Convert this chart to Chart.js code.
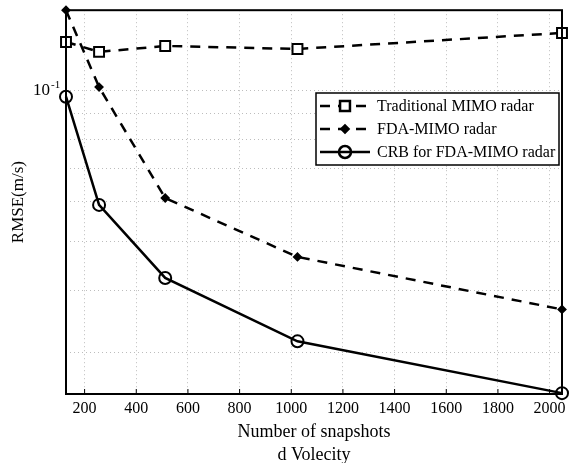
<!DOCTYPE html>
<html>
<head>
<meta charset="utf-8">
<script src="https://cdn.jsdelivr.net/npm/chart.js"></script>
<style>
    body { margin: 0; background: #fff; }
    #wrap { width: 576px; height: 463px; }
</style>
</head>
<body>
<div id="wrap"><canvas id="myChart" width="576" height="463"></canvas></div>
<script>
const snapshots = [128, 256, 512, 1024, 2048]
const traditionalMimo = [0.1253, 0.1197, 0.1230, 0.1213, 0.1306]
const fdaMimo = [0.1450, 0.1018, 0.0611, 0.0466, 0.0366]
const crbFdaMimo = [0.0974, 0.0592, 0.0423, 0.0316, 0.0249]
const xTicks = [200, 400, 600, 800, 1000, 1200, 1400, 1600, 1800, 2000]
const yGrid = [0.03, 0.04, 0.05, 0.06, 0.07, 0.08, 0.09, 0.1]
const seriesNames = ['Traditional MIMO radar', 'FDA-MIMO radar', 'CRB for FDA-MIMO radar']

const serif = "'Liberation Serif', 'DejaVu Serif', serif"

function toPoints(values) {
    return snapshots.map((x, i) => ({x: x, y: values[i]}))
}

// frame, inner ticks, 10^-1 label and the boxed legend
const extras = {
    id: 'extras',
    afterDraw(chart) {
        const ctx = chart.ctx
        const area = chart.chartArea
        const xs = chart.scales.x
        const ys = chart.scales.y
        ctx.save()
        ctx.setLineDash([])
        ctx.strokeStyle = '#000'
        ctx.lineWidth = 2
        ctx.strokeRect(area.left, area.top, area.right - area.left, area.bottom - area.top)

        ctx.lineWidth = 1
        xTicks.forEach(v => {
            const px = xs.getPixelForValue(v)
            ctx.beginPath()
            ctx.moveTo(px, area.bottom)
            ctx.lineTo(px, area.bottom - 5)
            ctx.stroke()
        })

        const py = ys.getPixelForValue(0.1)
        ctx.fillStyle = '#000'
        ctx.textBaseline = 'middle'
        ctx.textAlign = 'right'
        ctx.font = '17px ' + serif
        ctx.fillText('10', area.left - 16, py)
        ctx.font = '11px ' + serif
        ctx.textAlign = 'left'
        ctx.fillText('-1', area.left - 15, py - 6)

        // legend
        const bx = 316, by = 93, bw = 243, bh = 72
        ctx.fillStyle = '#fff'
        ctx.fillRect(bx, by, bw, bh)
        ctx.lineWidth = 1.5
        ctx.strokeStyle = '#000'
        ctx.strokeRect(bx, by, bw, bh)
        chart.data.datasets.forEach((ds, i) => {
            const ly = by + 13 + i * 23
            ctx.setLineDash(ds.borderDash || [])
            ctx.lineWidth = ds.borderWidth
            ctx.beginPath()
            ctx.moveTo(bx + 4, ly)
            ctx.lineTo(ds.borderDash ? bx + 58 : bx + 54, ly)
            ctx.stroke()
            ctx.setLineDash([])
            ctx.fillStyle = ds.pointBackgroundColor
            Chart.helpers.drawPoint(ctx, {
                pointStyle: ds.pointStyle,
                radius: ds.pointRadius,
                borderWidth: ds.pointBorderWidth
            }, bx + 29, ly)
            ctx.fillStyle = '#000'
            ctx.font = '16px ' + serif
            ctx.textAlign = 'left'
            ctx.textBaseline = 'middle'
            ctx.fillText(seriesNames[i], bx + 61, ly + 1)
        })
        ctx.restore()
    }
}

const common = {
    borderColor: '#000',
    borderWidth: 2.5,
    pointBorderColor: '#000',
    pointBorderWidth: 2,
    tension: 0,
    clip: false
}

new Chart(document.getElementById('myChart'), {
    type: 'line',
    data: {
        datasets: [
            {...common, label: seriesNames[0], data: toPoints(traditionalMimo), borderDash: [10, 8],
                pointStyle: 'rect', pointRadius: 7, pointBackgroundColor: '#fff'},
            {...common, label: seriesNames[1], data: toPoints(fdaMimo), borderDash: [10, 8],
                pointStyle: 'rectRot', pointRadius: 3.5, pointBackgroundColor: '#000'},
            {...common, label: seriesNames[2], data: toPoints(crbFdaMimo),
                pointStyle: 'circle', pointRadius: 6, pointBackgroundColor: 'rgba(0,0,0,0)'}
        ]
    },
    options: {
        responsive: false,
        animation: false,
        layout: {padding: {left: 0, right: 14, top: 10, bottom: 0}},
        plugins: {legend: {display: false}, tooltip: {enabled: false}},
        scales: {
            x: {
                type: 'linear',
                min: 128,
                max: 2048,
                afterBuildTicks: scale => { scale.ticks = xTicks.map(v => ({value: v})) },
                afterFit: scale => { scale.height = 69 },
                grid: {color: '#bdbdbd', lineWidth: 1, drawTicks: false},
                border: {display: false, dash: [1, 3]},
                ticks: {color: '#000', font: {family: serif, size: 16}, padding: 5, maxRotation: 0,
                    callback: v => String(v)},
                title: {
                    display: true,
                    text: ['Number of snapshots', 'd Volecity'],
                    color: '#000',
                    font: {family: serif, size: 18, lineHeight: 1.28},
                    padding: {top: 0, bottom: -3.5}
                }
            },
            y: {
                type: 'logarithmic',
                min: 0.0248,
                max: 0.145,
                afterBuildTicks: scale => { scale.ticks = yGrid.map(v => ({value: v})) },
                afterFit: scale => { scale.width = 66 },
                grid: {color: '#bdbdbd', lineWidth: 1, drawTicks: false},
                border: {display: false, dash: [1, 3]},
                ticks: {callback: () => ''},
                title: {
                    display: true,
                    text: 'RMSE(m/s)',
                    color: '#000',
                    font: {family: serif, size: 17},
                    padding: {top: 8, bottom: 0}
                }
            }
        }
    },
    plugins: [extras]
})
</script>
</body>
</html>
